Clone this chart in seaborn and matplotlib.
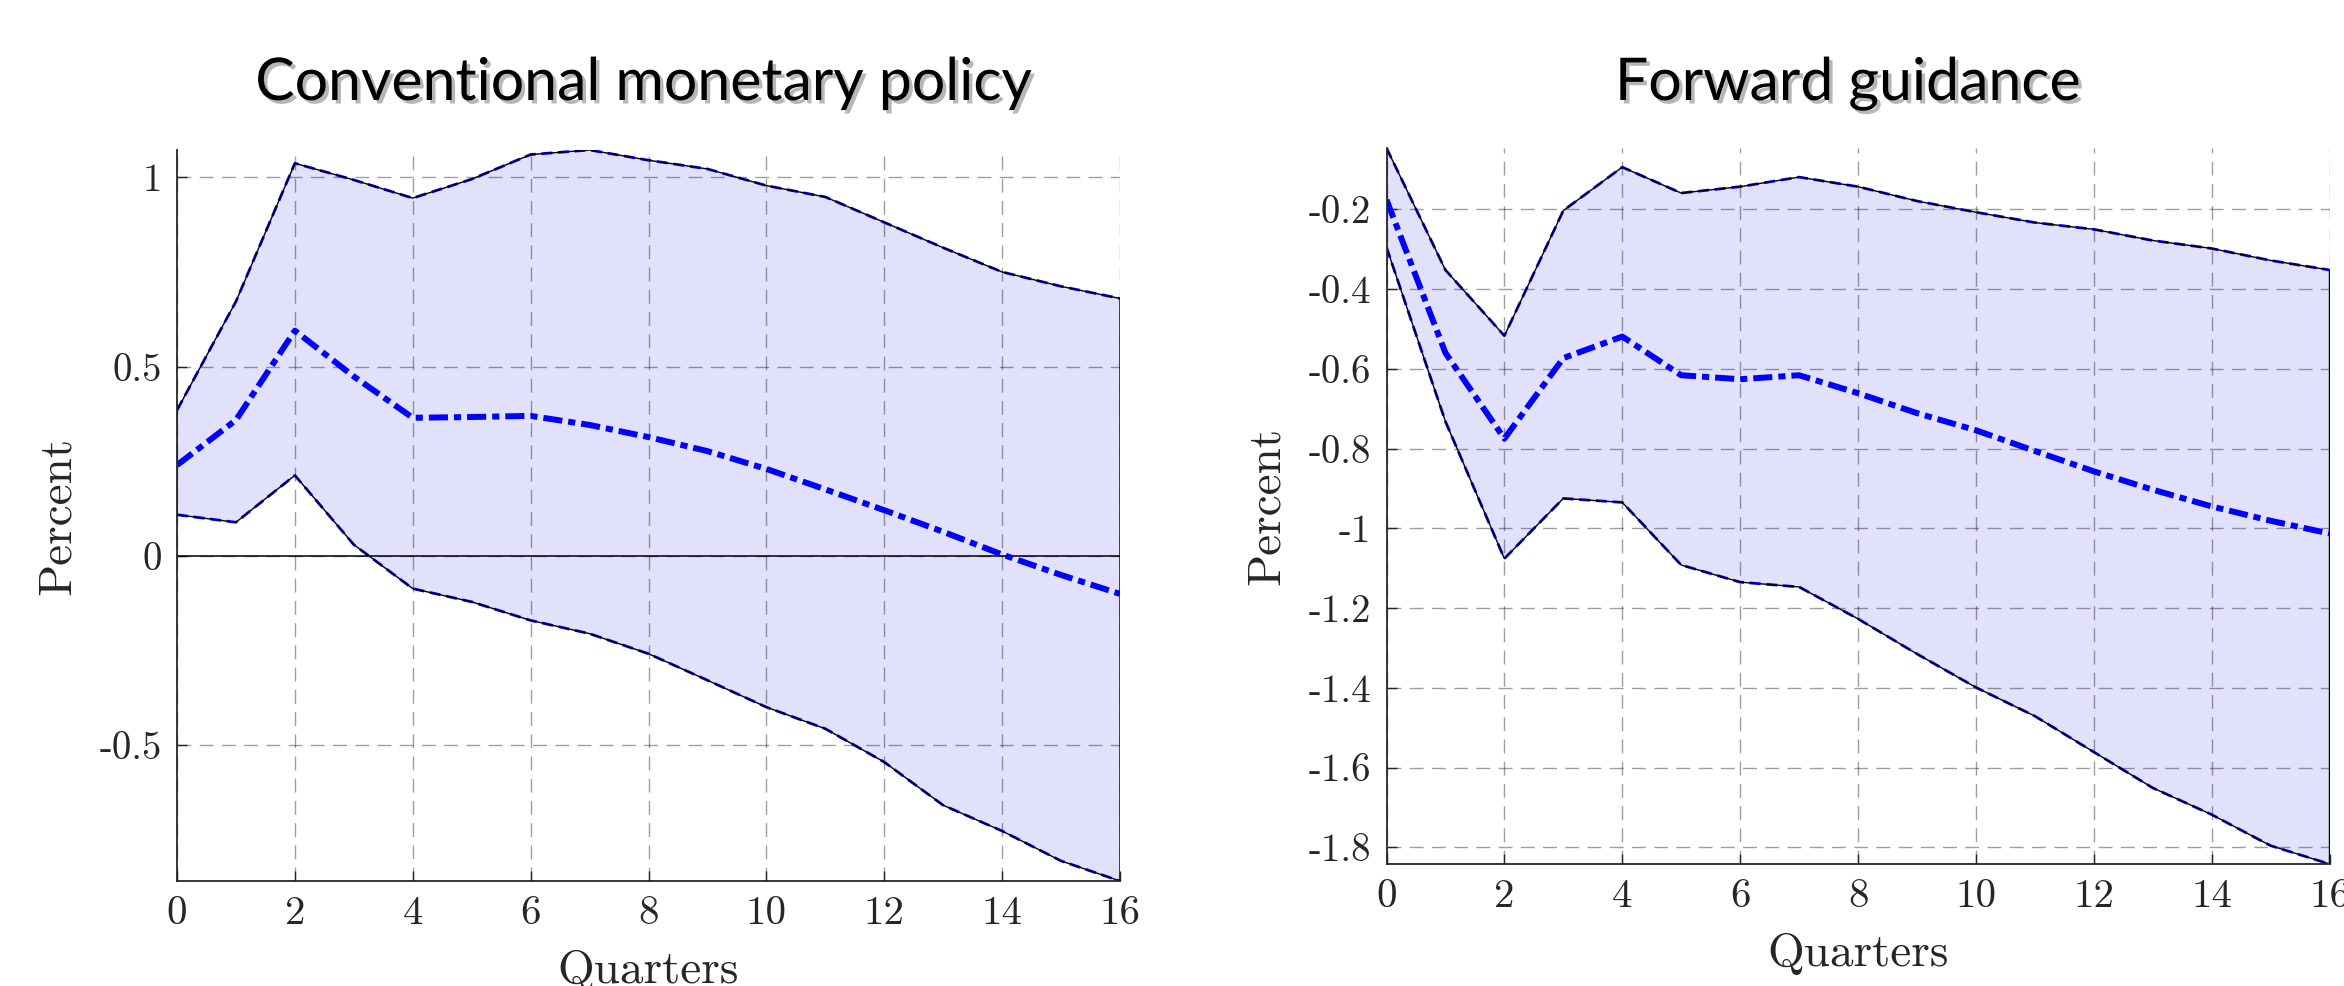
import numpy as np
import pandas as pd
import matplotlib
matplotlib.use("Agg")
import matplotlib.pyplot as plt
import matplotlib.patheffects as pe
import seaborn as sns

# ---------------- data ----------------
quarters = list(range(17))

cmp_upper = [0.385, 0.672, 1.037, 0.993, 0.945, 0.995, 1.060, 1.072, 1.045,
             1.022, 0.978, 0.948, 0.881, 0.814, 0.750, 0.712, 0.680]
cmp_mid = [0.240, 0.359, 0.595, 0.474, 0.365, 0.367, 0.370, 0.346, 0.314,
           0.277, 0.230, 0.176, 0.121, 0.064, 0.004, -0.050, -0.100]
cmp_lower = [0.109, 0.089, 0.213, 0.030, -0.086, -0.121, -0.170, -0.205, -0.258,
             -0.328, -0.399, -0.456, -0.544, -0.658, -0.726, -0.805, -0.858]

fg_upper = [-0.046, -0.352, -0.517, -0.203, -0.094, -0.159, -0.143, -0.119, -0.143,
            -0.179, -0.207, -0.233, -0.250, -0.278, -0.298, -0.328, -0.352]
fg_mid = [-0.176, -0.560, -0.775, -0.573, -0.519, -0.616, -0.626, -0.616, -0.661,
          -0.711, -0.754, -0.806, -0.857, -0.903, -0.945, -0.981, -1.013]
fg_lower = [-0.295, -0.732, -1.076, -0.925, -0.935, -1.092, -1.135, -1.147, -1.227,
            -1.315, -1.399, -1.471, -1.561, -1.651, -1.718, -1.796, -1.842]

titles = ["Conventional monetary policy", "Forward guidance"]
x_label = "Quarters"
y_label = "Percent"
x_ticks = [0, 2, 4, 6, 8, 10, 12, 14, 16]
x_tick_labels = ["0", "2", "4", "6", "8", "10", "12", "14", "16"]
cmp_y_ticks = [-0.5, 0, 0.5, 1]
cmp_y_tick_labels = ["-0.5", "0", "0.5", "1"]
fg_y_ticks = [-1.8, -1.6, -1.4, -1.2, -1.0, -0.8, -0.6, -0.4, -0.2]
fg_y_tick_labels = ["-1.8", "-1.6", "-1.4", "-1.2", "-1", "-0.8", "-0.6", "-0.4", "-0.2"]

# ---------------- style ----------------
sns.set_theme(style="white")
plt.rcParams["font.family"] = ["cmr10", "DejaVu Serif"]
plt.rcParams["mathtext.fontset"] = "cm"

W, H = 2344, 986
fig = plt.figure(figsize=(W / 100, H / 100), dpi=100)
fig.patch.set_facecolor("white")

FILL = "#e1e1fb"
AXC = "#262626"

ax1 = fig.add_axes([177 / W, 1 - 881 / H, 943 / W, 731 / H])
ax2 = fig.add_axes([1386.5 / W, 1 - 864 / H, 943 / W, 716 / H])


def panel(ax, upper, mid, lower, yticks, ylabels, zero_line):
    df = pd.DataFrame({"q": quarters, "upper": upper, "mid": mid, "lower": lower})
    ax.set_facecolor("white")
    ax.fill_between(df["q"], df["lower"], df["upper"], facecolor=FILL,
                    edgecolor="none", zorder=1)
    sns.lineplot(data=df, x="q", y="upper", ax=ax, color="blue", lw=2.0,
                 linestyle=(0, (4, 2)), zorder=3)
    sns.lineplot(data=df, x="q", y="lower", ax=ax, color="blue", lw=2.0,
                 linestyle=(0, (4, 2)), zorder=3)
    ax.fill_between(df["q"], df["lower"], df["upper"], facecolor="none",
                    edgecolor="black", lw=1.0, zorder=4)
    if zero_line:
        ax.axhline(0, color="black", lw=1.1, zorder=4)
    sns.lineplot(data=df, x="q", y="mid", ax=ax, color="blue", lw=4.3,
                 linestyle=(0, (3.2, 1.0, 1.2, 1.0)), zorder=5)

    ax.set_xlim(0, 16)
    ax.set_ylim(min(lower), max(upper))
    ax.set_xticks(x_ticks)
    ax.set_xticklabels(x_tick_labels)
    ax.set_yticks(yticks)
    ax.set_yticklabels(ylabels)
    ax.grid(True, color="black", alpha=0.38, linestyle=(0, (10, 6)), lw=1.0)
    ax.set_axisbelow(False)
    for s in ["top", "right"]:
        ax.spines[s].set_visible(False)
    for s in ["left", "bottom"]:
        ax.spines[s].set_color(AXC)
        ax.spines[s].set_linewidth(1.3)
        ax.spines[s].set_zorder(6)
    ax.tick_params(axis="both", direction="in", length=7, width=1.0,
                   color=AXC, labelcolor=AXC, left=True, bottom=True)
    ax.tick_params(axis="y", labelsize=28, pad=11)
    ax.tick_params(axis="x", labelsize=29.5, pad=11)
    ax.set_xlabel(x_label, fontsize=34, color=AXC, labelpad=13)
    ax.set_ylabel(y_label, fontsize=34, color=AXC, labelpad=15)


panel(ax1, cmp_upper, cmp_mid, cmp_lower, cmp_y_ticks, cmp_y_tick_labels, True)
panel(ax2, fg_upper, fg_mid, fg_lower, fg_y_ticks, fg_y_tick_labels, False)

# ---------------- titles ----------------
title_fams = ["Lato", "Open Sans", "DejaVu Sans"]
shadow = [pe.withSimplePatchShadow(offset=(2.5, -2.5), shadow_rgbFace="#888888", alpha=0.6)]
t1 = fig.text(644 / W, 1 - 100 / H, titles[0], ha="center", va="baseline",
              fontsize=50, color="black", family=title_fams, path_effects=shadow)
t2 = fig.text(1848 / W, 1 - 100 / H, titles[1], ha="center", va="baseline",
              fontsize=50, color="black", family=title_fams, path_effects=shadow)
fig.canvas.draw()
r = fig.canvas.get_renderer()
w1 = t1.get_window_extent(r).width
fs = 50 * 776 / w1
t1.set_fontsize(fs)
t2.set_fontsize(fs)

fig.savefig("out.png", dpi=100, facecolor="white")
